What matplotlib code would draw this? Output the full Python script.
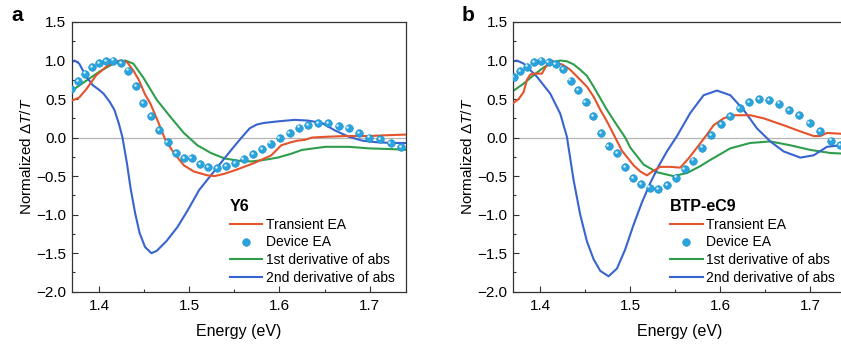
import matplotlib
matplotlib.use('Agg')
import matplotlib.pyplot as plt
import numpy as np
from matplotlib.ticker import MultipleLocator
from matplotlib.transforms import ScaledTranslation

plt.rcParams['font.family'] = ['Liberation Sans', 'DejaVu Sans']
plt.rcParams['mathtext.fontset'] = 'custom'
plt.rcParams['mathtext.rm'] = 'Liberation Sans'
plt.rcParams['mathtext.it'] = 'Liberation Sans:italic'

# ---- panel a : Y6 ----
y6_tea_x = [1.370, 1.378, 1.386, 1.397, 1.408, 1.419, 1.424, 1.431, 1.438, 1.444, 1.451, 1.457,
            1.466, 1.4735, 1.483, 1.494, 1.505, 1.520, 1.528, 1.539, 1.554, 1.572, 1.591, 1.602,
            1.613, 1.620, 1.628, 1.636, 1.651, 1.673, 1.699, 1.718, 1.743]
y6_tea_y = [0.48, 0.52, 0.63, 0.81, 0.92, 0.99, 1.00, 0.98, 0.87, 0.75, 0.56, 0.44,
            0.19, -0.03, -0.20, -0.36, -0.44, -0.49, -0.50, -0.47, -0.41, -0.33, -0.23, -0.10,
            -0.06, -0.04, -0.03, 0.00, 0.01, 0.02, 0.02, 0.03, 0.04]

y6_dev_x = [1.3694, 1.3765, 1.3843, 1.3922, 1.4000, 1.4082, 1.4160, 1.4242, 1.4324, 1.4411,
            1.4492, 1.4575, 1.4668, 1.4761, 1.4855, 1.4940, 1.5026, 1.5119, 1.5213, 1.5313,
            1.5406, 1.5507, 1.5604, 1.5705, 1.5805, 1.5902, 1.6002, 1.6114, 1.6215, 1.6320,
            1.6432, 1.6544, 1.6655, 1.6767, 1.6886, 1.6998, 1.7114, 1.7233, 1.7352]
y6_dev_y = [0.63, 0.73, 0.83, 0.91, 0.965, 0.99, 1.00, 0.97, 0.87, 0.67,
            0.45, 0.28, 0.10, -0.06, -0.20, -0.27, -0.27, -0.34, -0.38, -0.40,
            -0.37, -0.33, -0.28, -0.21, -0.15, -0.08, -0.01, 0.06, 0.13, 0.16,
            0.19, 0.19, 0.15, 0.12, 0.06, 0.00, -0.02, -0.07, -0.12]

y6_d1_x = [1.370, 1.386, 1.401, 1.416, 1.429, 1.438, 1.449, 1.464, 1.479, 1.494, 1.509, 1.524,
           1.539, 1.554, 1.569, 1.583, 1.598, 1.613, 1.625, 1.651, 1.677, 1.699, 1.725, 1.743]
y6_d1_y = [0.61, 0.74, 0.86, 0.96, 1.00, 0.96, 0.78, 0.49, 0.27, 0.06, -0.10, -0.20,
           -0.27, -0.30, -0.31, -0.29, -0.26, -0.21, -0.16, -0.12, -0.12, -0.14, -0.15, -0.16]

y6_d2_x = [1.369, 1.373, 1.378, 1.386, 1.393, 1.400, 1.405, 1.412, 1.417, 1.422, 1.426, 1.431,
           1.435, 1.440, 1.445, 1.451, 1.458, 1.464, 1.475, 1.487, 1.498, 1.511, 1.524, 1.537,
           1.548, 1.558, 1.567, 1.575, 1.583, 1.598, 1.617, 1.632, 1.647, 1.662, 1.677, 1.692,
           1.707, 1.725, 1.743]
y6_d2_y = [0.97, 1.00, 0.96, 0.79, 0.68, 0.62, 0.57, 0.46, 0.36, 0.18, 0.00, -0.34,
           -0.66, -0.98, -1.24, -1.42, -1.50, -1.47, -1.34, -1.16, -0.95, -0.68, -0.49, -0.30,
           -0.14, 0.00, 0.12, 0.17, 0.19, 0.21, 0.23, 0.22, 0.19, 0.09, 0.01, -0.04,
           -0.06, -0.07, -0.07]

# ---- panel b : BTP-eC9 ----
ec9_tea_x = [1.3703, 1.3760, 1.3815, 1.3852, 1.3890, 1.3944, 1.4019, 1.4056, 1.4111, 1.4148,
             1.4193, 1.4241, 1.4296, 1.4333, 1.4444, 1.4519, 1.4593, 1.4667, 1.4741, 1.4833,
             1.4907, 1.5037, 1.5111, 1.5185, 1.5259, 1.5333, 1.5444, 1.5556, 1.5648, 1.5741,
             1.5852, 1.5926, 1.6037, 1.6148, 1.6333, 1.6481, 1.6704, 1.6889, 1.7037, 1.7111,
             1.7185, 1.7333, 1.7400]
ec9_tea_y = [0.45, 0.50, 0.59, 0.75, 0.82, 0.83, 0.83, 0.91, 1.00, 0.99,
             0.96, 0.95, 0.91, 0.88, 0.75, 0.66, 0.53, 0.36, 0.21, 0.00,
             -0.17, -0.36, -0.44, -0.49, -0.43, -0.38, -0.38, -0.39, -0.27, -0.13,
             0.04, 0.16, 0.25, 0.29, 0.29, 0.25, 0.16, 0.08, 0.02, 0.02,
             0.06, 0.05, 0.04]

ec9_dev_x = [1.3704, 1.3778, 1.3852, 1.3930, 1.4011, 1.4093, 1.4170, 1.4255, 1.4337, 1.4420,
             1.4505, 1.4585, 1.4674, 1.4759, 1.4852, 1.4940, 1.5033, 1.5122, 1.5216, 1.5310,
             1.5407, 1.5508, 1.5604, 1.5700, 1.5800, 1.5902, 1.6006, 1.6111, 1.6215, 1.6322,
             1.6433, 1.6544, 1.6652, 1.6763, 1.6878, 1.6993, 1.7111, 1.7230, 1.7333]
ec9_dev_y = [0.78, 0.86, 0.92, 0.975, 1.00, 0.98, 0.95, 0.89, 0.74, 0.62,
             0.46, 0.28, 0.06, -0.11, -0.20, -0.38, -0.53, -0.60, -0.65, -0.67,
             -0.62, -0.52, -0.41, -0.30, -0.13, 0.03, 0.17, 0.28, 0.38, 0.46,
             0.50, 0.49, 0.44, 0.36, 0.29, 0.19, 0.08, -0.04, -0.10]

ec9_d1_x = [1.3704, 1.3815, 1.3926, 1.4037, 1.4148, 1.4222, 1.4296, 1.4370, 1.4444, 1.4519,
            1.4593, 1.4667, 1.4741, 1.4852, 1.4944, 1.5000, 1.5074, 1.5148, 1.5296, 1.5481,
            1.5630, 1.5778, 1.5889, 1.6111, 1.6333, 1.6556, 1.6778, 1.7000, 1.7222, 1.7400]
ec9_d1_y = [0.61, 0.70, 0.81, 0.91, 0.98, 1.00, 0.99, 0.95, 0.88, 0.80,
            0.66, 0.51, 0.36, 0.16, 0.00, -0.13, -0.24, -0.35, -0.45, -0.50,
            -0.46, -0.37, -0.29, -0.14, -0.07, -0.05, -0.10, -0.16, -0.20, -0.21]

ec9_d2_x = [1.3703, 1.3740, 1.3815, 1.3963, 1.4111, 1.4222, 1.4296, 1.4370, 1.4444, 1.4519,
            1.4593, 1.4667, 1.4759, 1.4852, 1.4944, 1.5037, 1.5130, 1.5222, 1.5315, 1.5407,
            1.5519, 1.5667, 1.5815, 1.5963, 1.6111, 1.6259, 1.6407, 1.6556, 1.6704, 1.6889,
            1.7037, 1.7185, 1.7333, 1.7400]
ec9_d2_y = [0.99, 1.00, 0.96, 0.79, 0.57, 0.31, 0.01, -0.55, -1.00, -1.35,
            -1.58, -1.73, -1.80, -1.70, -1.45, -1.13, -0.84, -0.59, -0.37, -0.18,
            0.02, 0.32, 0.55, 0.61, 0.55, 0.36, 0.12, -0.05, -0.18, -0.26,
            -0.23, -0.12, -0.10, -0.10]

labels = ['Transient EA', 'Device EA', '1st derivative of abs', '2nd derivative of abs']
c_red, c_dot, c_green, c_blue = '#e4532b', '#2aa4de', '#2e9e4c', '#3864cf'

fig = plt.figure(figsize=(8.41, 3.49), dpi=100)
ax_a = fig.add_axes([0.0856, 0.1642, 0.3968, 0.7728])
ax_b = fig.add_axes([0.6103, 0.1642, 0.3960, 0.7728])


def panel(ax, name, tea, dev, d1, d2, leg_x):
    ax.axhline(0, color='#b5b5b5', lw=0.9, zorder=1)
    l1, = ax.plot(tea[0], tea[1], color=c_red, lw=1.5, zorder=3)
    l3, = ax.plot(d1[0], d1[1], color=c_green, lw=1.5, zorder=2)
    l4, = ax.plot(d2[0], d2[1], color=c_blue, lw=1.5, zorder=2)
    l2, = ax.plot(dev[0], dev[1], 'o', ms=5.5, color=c_dot, mec='#1a8cc6', mew=0.4, zorder=4)
    # little highlight on the spheres
    hl = ax.transData + ScaledTranslation(-0.9 / 72, 0.9 / 72, fig.dpi_scale_trans)
    ax.plot(dev[0], dev[1], 'o', ms=1.8, color='#d8f1fc', mew=0, transform=hl, zorder=5)

    ax.set_xlim(1.37, 1.74)
    ax.set_ylim(-2.0, 1.5)
    ax.xaxis.set_major_locator(MultipleLocator(0.1))
    ax.xaxis.set_minor_locator(MultipleLocator(0.05))
    ax.yaxis.set_major_locator(MultipleLocator(0.5))
    ax.yaxis.set_minor_locator(MultipleLocator(0.25))
    ax.tick_params(which='both', direction='in', labelsize=11, color='#333333', width=0.8)
    ax.tick_params(which='major', length=4)
    ax.tick_params(which='minor', length=2.5)
    ax.tick_params(axis='y', pad=4)
    ax.tick_params(axis='x', pad=5)
    for s in ax.spines.values():
        s.set_color('#333333')
        s.set_linewidth(0.9)
    ax.set_xlabel('Energy (eV)', fontsize=11.5, labelpad=8)
    ax.set_ylabel(r'Normalized $\Delta T/T$', fontsize=11, labelpad=2)

    leg = ax.legend([l1, l2, l3, l4], labels, loc='upper left', bbox_to_anchor=(leg_x, 0.345),
                    frameon=False, fontsize=10, handlelength=2.35, handletextpad=0.25,
                    labelspacing=0.28, borderpad=0, borderaxespad=0, numpoints=1,
                    title=name, title_fontproperties={'weight': 'bold', 'size': 11.5},
                    alignment='left')
    return leg


panel(ax_a, 'Y6', (y6_tea_x, y6_tea_y), (y6_dev_x, y6_dev_y), (y6_d1_x, y6_d1_y),
      (y6_d2_x, y6_d2_y), 0.473)
panel(ax_b, 'BTP-eC9', (ec9_tea_x, ec9_tea_y), (ec9_dev_x, ec9_dev_y), (ec9_d1_x, ec9_d1_y),
      (ec9_d2_x, ec9_d2_y), 0.4706)

fig.text(0.013, 0.94, 'a', fontsize=15, fontweight='bold')
fig.text(0.549, 0.94, 'b', fontsize=15, fontweight='bold')

fig.savefig('out.png', dpi=100)
